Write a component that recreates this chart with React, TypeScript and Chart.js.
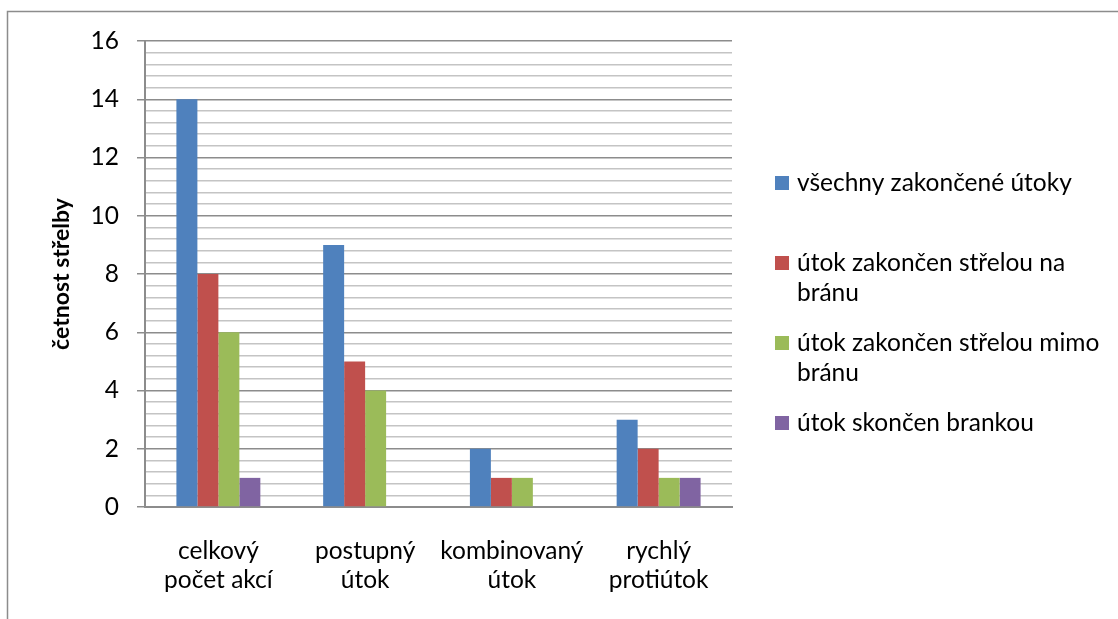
import React, { useEffect, useRef } from "react";
import { Chart, registerables } from "chart.js";

Chart.register(...registerables);

// ---- data ----
const categories: string[][] = [
  ["celkový", "počet akcí"],
  ["postupný", "útok"],
  ["kombinovaný", "útok"],
  ["rychlý", "protiútok"],
];
const legendLines: string[][] = [
  ["všechny zakončené útoky"],
  ["útok zakončen střelou na", "bránu"],
  ["útok zakončen střelou mimo", "bránu"],
  ["útok skončen brankou"],
];
const allAttacks = [14, 9, 2, 3];
const onTarget = [8, 5, 1, 2];
const offTarget = [6, 4, 1, 1];
const goals = [1, 0, 0, 1];
const seriesValues = [allAttacks, onTarget, offTarget, goals];
const seriesColors = ["#4F81BD", "#C0504D", "#9BBB59", "#8064A2"];
const yTitle = "četnost střelby";
const yMin = 0;
const yMax = 16;
const majorStep = 2;
const minorStep = 0.4;

// ---- style ----
const FONT = "Lato, 'Open Sans', sans-serif";
const FONT_SIZE = 24.5;
const MAJOR = "#8c8c8c";
const MINOR = "#c4c4c4";

const isMajor = (v: number) => Math.abs(v / majorStep - Math.round(v / majorStep)) < 1e-6;

const frameAndLegend = {
  id: "frameAndLegend",
  afterDraw(chart: any) {
    const ctx = chart.ctx as CanvasRenderingContext2D;
    ctx.save();
    ctx.strokeStyle = MAJOR;
    ctx.lineWidth = 1.5;
    ctx.beginPath();
    ctx.moveTo(7.5, chart.height + 2);
    ctx.lineTo(7.5, 11.5);
    ctx.lineTo(chart.width + 2, 11.5);
    ctx.stroke();

    ctx.font = `${FONT_SIZE}px ${FONT}`;
    ctx.textBaseline = "middle";
    ctx.textAlign = "left";
    chart.data.datasets.forEach((ds: any, i: number) => {
      const y0 = 183 + i * 80;
      ctx.fillStyle = ds.backgroundColor;
      ctx.fillRect(775, y0 - 7, 14, 14);
      ctx.fillStyle = "#000";
      legendLines[i].forEach((line, j) => ctx.fillText(line, 797, y0 + j * 30.5));
    });
    ctx.restore();
  },
};

export default function App() {
  const ref = useRef<HTMLCanvasElement | null>(null);

  useEffect(() => {
    document.body.style.margin = "0";
    const canvas = ref.current;
    if (!canvas) return;
    const chart = new Chart(canvas, {
      type: "bar",
      data: {
        labels: categories,
        datasets: seriesValues.map((vals, i) => ({
          label: legendLines[i].join(" "),
          data: vals,
          backgroundColor: seriesColors[i],
          borderWidth: 0,
          categoryPercentage: 0.572,
          barPercentage: 1,
        })),
      },
      options: {
        responsive: false,
        animation: false,
        events: [],
        layout: { padding: { left: 48, top: 41, right: 386, bottom: 0 } },
        plugins: {
          legend: { display: false },
          tooltip: { enabled: false },
          title: { display: false },
        },
        scales: {
          x: {
            grid: { display: false, drawTicks: false },
            border: { display: true, color: MAJOR, width: 2 },
            ticks: {
              font: { family: FONT, size: FONT_SIZE, lineHeight: "29px" },
              color: "#000",
              padding: 29.5,
              maxRotation: 0,
              autoSkip: false,
            },
            afterFit: (s: any) => {
              s.height = 619 - 507;
            },
          },
          y: {
            min: yMin,
            max: yMax,
            ticks: {
              stepSize: minorStep,
              maxTicksLimit: 100,
              autoSkip: false,
              padding: 18,
              font: { family: FONT, size: FONT_SIZE },
              color: "#000",
              callback: (v: any) => (isMajor(Number(v)) ? String(Math.round(Number(v))) : ""),
            },
            grid: {
              color: (c: any) => (isMajor(c.tick.value) ? MAJOR : MINOR),
              tickColor: (c: any) => (isMajor(c.tick.value) ? MAJOR : "rgba(0,0,0,0)"),
              tickLength: 8,
              lineWidth: 1.5,
            },
            border: { display: true, color: MAJOR, width: 2 },
            title: {
              display: true,
              text: yTitle,
              color: "#000",
              font: { family: FONT, size: 23, weight: "bold" },
              padding: 0,
            },
            afterFit: (s: any) => {
              s.width = 145 - 48;
            },
          },
        },
      },
      plugins: [frameAndLegend],
    } as any);
    return () => chart.destroy();
  }, []);

  return <canvas ref={ref} width={1118} height={619} style={{ display: "block" }} />;
}
